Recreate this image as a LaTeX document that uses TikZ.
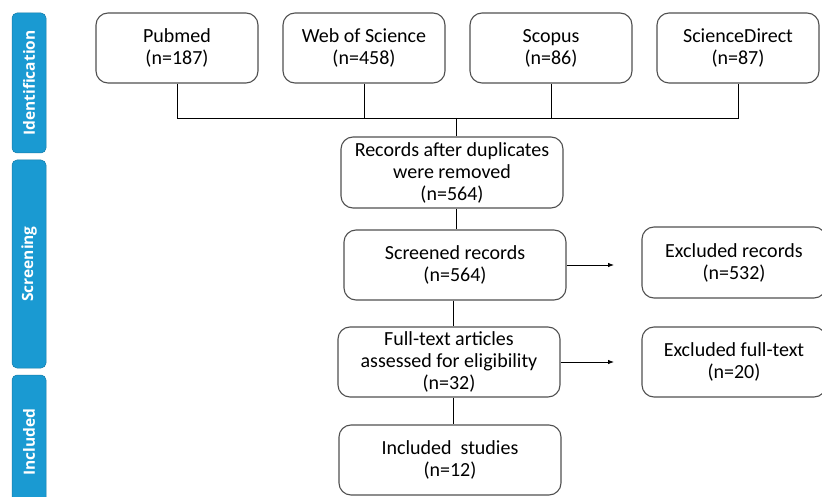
\documentclass[tikz,border=0pt]{standalone}
\usepackage{fontspec}
\setmainfont{Carlito}
\newfontfamily\sidefont{Open Sans}
\usetikzlibrary{arrows.meta}
\definecolor{sideblue}{HTML}{1A9AD2}
\definecolor{boxgray}{HTML}{505050}
\tikzset{
  box/.style={draw=boxgray, line width=1.1pt, rounded corners=12pt, align=center, inner sep=0pt,
    font=\fontsize{20}{22}\selectfont},
  side/.style={fill=sideblue, draw=sideblue!80!black, line width=0.5pt, rounded corners=5pt},
  sidetext/.style={text=white, rotate=90, font=\sidefont\bfseries\fontsize{15.5}{17}\selectfont},
  conn/.style={draw=black, line width=0.8pt},
  arr/.style={conn, -{Latex[length=6pt,width=4.5pt]}}
}
\begin{document}
\begin{tikzpicture}[x=1pt,y=-1pt]
\useasboundingbox (0,0) rectangle (822,497);
% side bars
\filldraw[side] (12,13) rectangle (46,153);
\node[sidetext] (sid) at (29,83) {Identification};
\filldraw[side] (12,160) rectangle (46,368);
\node[sidetext] (sscr) at (29,264) {Screening};
\filldraw[side] (12,375) rectangle (46,510);
\node[sidetext] (sinc) at (29,442) {Included};
% top boxes
\node[box, minimum width=162pt, minimum height=70pt] (pub) at (177,48) {Pubmed\\(n=187)};
\node[box, minimum width=162pt, minimum height=70pt] (wos) at (364,48) {Web of Science\\(n=458)};
\node[box, minimum width=162pt, minimum height=70pt] (sco) at (551,48) {Scopus\\(n=86)};
\node[box, minimum width=162pt, minimum height=70pt] (sd) at (738,48) {ScienceDirect\\(n=87)};
% main column
\node[box, minimum width=222pt, minimum height=71pt] (rec) at (452,172.5) {Records after duplicates\\were removed\\(n=564)};
\node[box, minimum width=222pt, minimum height=70pt] (scr) at (455,265) {Screened records\\(n=564)};
\node[box, minimum width=222pt, minimum height=70pt] (ft) at (449,362) {Full-text articles\\assessed for eligibility\\(n=32)};
\node[box, minimum width=222pt, minimum height=70pt] (inc) at (450,460) {Included\ \ studies\\(n=12)};
\node[box, minimum width=184pt, minimum height=71pt] (exr) at (734,262.5) {Excluded records\\(n=532)};
\node[box, minimum width=184pt, minimum height=70pt] (exf) at (734,362) {Excluded full-text\\(n=20)};
% connectors
\coordinate (j1) at (177,118);
\coordinate (j4) at (738,118);
\coordinate (jm) at (456,118);
\draw[conn] (pub.south) -- (j1) -- (j4) -- (sd.south);
\draw[conn] (wos.south) -- (wos.south |- j1);
\draw[conn] (sco.south) -- (sco.south |- j1);
\draw[conn] (jm) -- (jm |- rec.north);
\draw[conn] (rec.south -| jm) -- (scr.north -| jm);
\coordinate (jl) at (453,300);
\draw[conn] (jl |- scr.south) -- (jl |- ft.north);
\draw[conn] (jl |- ft.south) -- (jl |- inc.north);
\coordinate (a1) at (614,265);
\coordinate (a2) at (614,362);
\draw[arr] (scr.east) -- (a1);
\draw[arr] (ft.east) -- (a2);
\end{tikzpicture}
\end{document}
